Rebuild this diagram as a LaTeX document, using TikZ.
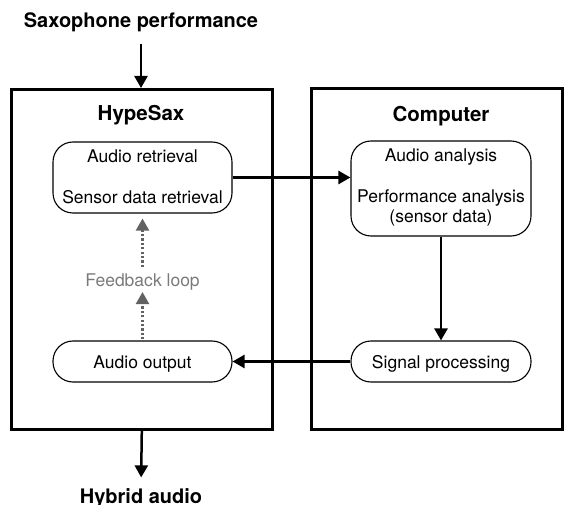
\documentclass[tikz,border=0pt]{standalone}
\usepackage{fontspec}
\setmainfont{TeX Gyre Heros}
\usetikzlibrary{arrows.meta}
\definecolor{loopgray}{HTML}{626262}
\definecolor{looptext}{HTML}{7A7A7A}
\begin{document}
\begin{tikzpicture}[x=1pt,y=-1pt,
  frame/.style={draw, line width=2.6pt, inner sep=0pt, anchor=north west},
  stage/.style={draw, line width=1.1pt, inner sep=0pt, rounded corners=20pt,
                minimum width=179pt},
  label/.style={anchor=base, inner sep=0pt, font=\fontsize{17.5}{19}\selectfont},
  heading/.style={anchor=base, inner sep=0pt, font=\fontsize{20.5}{24}\selectfont\bfseries},
  flow/.style={line width=2.5pt, -{Triangle[length=12pt,width=13pt]}},
  loopflow/.style={loopgray, line width=2.2pt, dash pattern=on 2.2pt off 2.2pt,
                   -{Triangle[length=12pt,width=13pt]}}]

\useasboundingbox (0,0) rectangle (568,505);

% outer frames
\node[frame, minimum width=261pt, minimum height=340pt] (hype) at (10,88) {};
\node[frame, minimum width=251pt, minimum height=341pt] (comp) at (310,87) {};

% titles
\node[heading, font=\fontsize{20}{24}\selectfont\bfseries] (sax) at (141,28) {Saxophone performance};
\node[heading, font=\fontsize{20}{24}\selectfont\bfseries] (hybrid) at (141,503.5) {Hybrid audio};
\node[heading] (hypet) at (141,121) {HypeSax};
\node[heading] (compt) at (441,121.5) {Computer};

% processing stages
\node[stage, minimum height=71pt] (ret) at (142.5,177.5) {};
\node[stage, minimum height=41pt] (out) at (142.5,361.5) {};
\node[stage, minimum width=180pt, minimum height=95pt] (ana) at (441,188.5) {};
\node[stage, minimum width=180pt, minimum height=41pt] (sig) at (441,361.5) {};

% stage texts
\node[label] (ret1) at (142.5,163) {Audio retrieval};
\node[label] (ret2) at (142.5,204) {Sensor data retrieval};
\node[label] (outt) at (142.5,368.5) {Audio output};
\node[label] (ana1) at (441,162) {Audio analysis};
\node[label] (ana2) at (441,203) {Performance analysis};
\node[label] (ana3) at (441,222.5) {(sensor data)};
\node[label] (sigt) at (441,368.5) {Signal processing};
\node[label, text=looptext] (fb) at (142.5,286.5) {Feedback loop};

% connectors
\draw[flow, shorten <=11pt] (sax.south) -- (sax.south |- hype.north);
\draw[flow, shorten >=11pt] (hype.south) -- (hybrid.north);
\draw[flow] (ret.east) -- (ret.east -| ana.west);
\draw[flow] (ana.south) -- (sig.north);
\draw[flow] (sig.west) -- (out.east);

% feedback loop
\draw[loopflow, shorten <=6.5pt, shorten >=5pt] (fb.north) -- (ret.south);
\draw[loopflow, shorten <=1pt, shorten >=1.5pt] (out.north) -- (fb.south);
\end{tikzpicture}
\end{document}
